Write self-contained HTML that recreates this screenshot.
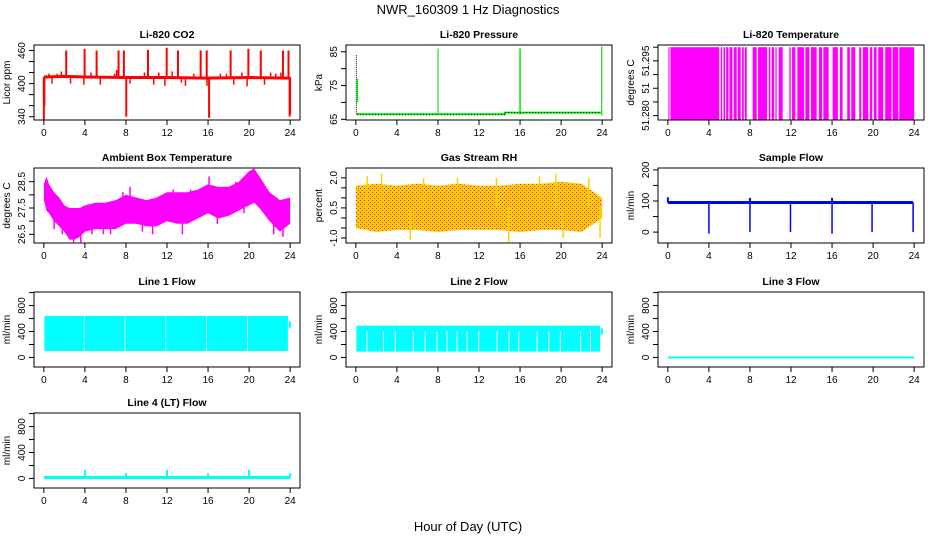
<!DOCTYPE html>
<html><head><meta charset="utf-8">
<style>
html,body{margin:0;padding:0;background:#fff;}
svg{display:block;font-family:"Liberation Sans",Arial,sans-serif;}
.t{font-size:10.5px;font-weight:bold;text-anchor:middle;}
.tk{font-size:10px;text-anchor:middle;}
.yl{font-size:10px;text-anchor:middle;}
</style></head>
<body>
<svg id="chart" width="936" height="540" viewBox="0 0 936 540">
<defs>
<pattern id="rhpat" width="4" height="4" patternUnits="userSpaceOnUse">
<rect width="4" height="4" fill="#ffcc00"/><rect x="0" y="0" width="1" height="1" fill="#ff2000"/><rect x="2" y="2" width="1" height="1" fill="#ff3000"/>
</pattern>
</defs>
<text x="468" y="14" font-size="13" text-anchor="middle">NWR_160309  1 Hz Diagnostics</text>
<text x="468" y="531" font-size="13" text-anchor="middle">Hour of Day (UTC)</text>
</svg>
<script>
// ---- data ----
var xTicks = [0,4,8,12,16,20,24];
var co2Base = [[0,412],[2,413],[4,412],[8,411],[12,411],[16,410],[20,411],[24,410]];
var co2UpHours = [2.18,3.97,5.14,7.28,7.8,10.15,11.97,13.07,15.28,15.87,18.2,19.93,21.14,23.3,23.84];
var co2UpVals = [460,463,460,460,460,461,465,460,460,460,460,463,460,460,460];
var co2DownHours = [0.0,0.05,8.03,16.1,23.95,24.0];
var co2DownVals = [335,360,340,338,340,345];
var co2SmallHours = [0.5,0.8,1.3,1.7,2.6,3.2,3.9,4.2,4.6,5.5,6.3,6.9,7.1,8.4,9.3,9.8,10.7,11.2,11.8,12.5,13.4,13.8,14.6,15.1,15.9,16.6,17.2,17.8,18.5,19.3,19.8,20.6,21.5,22.1,22.6,23.1];
var co2SmallVals = [418,400,418,422,400,410,398,412,420,398,412,418,425,400,410,420,398,420,396,422,402,396,418,408,396,410,418,418,398,420,395,410,398,420,418,420];
var presBaseHours = [0.1,14.5,14.5,23.9];
var presBaseVals = [66.5,66.5,67.0,67.0];
var presSpikeHours = [0.05,8.0,16.0,23.95];
var presSpikeVals = [84,86,86,86.5];
var tempGapStart = [0.16,5.0,5.29,5.58,5.9,6.29,6.71,7.1,7.4,7.69,8.66,9.67,9.99,10.35,10.6,11.19,11.97,12.42,13.27,13.79,14.5,15.02,15.67,16.57,17.03,17.74,18.26,18.84,19.53,19.92,20.34,20.99,21.8,22.45];
var tempGapEnd = [0.23,5.16,5.42,5.68,6.0,6.42,6.81,7.23,7.49,8.27,8.79,9.83,10.12,10.48,10.8,11.84,12.1,12.62,13.4,13.95,14.73,15.15,16.06,16.77,17.48,17.87,18.65,19.0,19.69,20.08,20.5,21.18,21.9,22.54];
var ambHours = [0,0.25,0.5,1,1.5,2,2.5,3,3.5,4,5,6,7,8,9,10,11,12,13,14,15,16,17,18,19,20,20.5,21,22,23,24];
var ambMin = [27.8,27.4,27.3,27.0,26.8,26.6,26.3,26.3,26.4,26.6,26.7,26.7,26.7,26.9,26.9,26.8,26.8,27.0,26.9,26.9,27.1,27.3,27.1,27.2,27.4,27.6,27.7,27.5,27.0,26.6,26.9];
var ambMax = [28.4,28.7,28.4,28.1,27.9,27.6,27.5,27.5,27.5,27.6,27.7,27.7,27.8,28.0,27.9,27.8,27.9,28.1,28.1,28.1,28.2,28.4,28.3,28.3,28.5,28.9,29.0,28.7,28.1,27.8,27.9];
var ambSpikeHours = [1.0,1.8,2.9,3.6,4.7,5.8,6.5,7.7,8.4,9.6,10.6,11.7,12.6,13.5,14.3,15.5,16.1,16.9,17.6,18.7,19.5,21.6,22.4,23.3];
var ambSpikeVals = [26.7,26.5,26.2,26.2,26.5,26.5,26.5,28.1,28.3,26.6,26.5,28.0,28.2,26.5,28.2,28.3,28.7,26.9,28.3,28.5,27.3,28.2,26.5,26.4];
var rhHours = [0,2,4,6,8,10,12,14,16,18,20,22,24];
var rhMin = [-0.5,-0.7,-0.6,-0.6,-0.7,-0.6,-0.6,-0.6,-0.7,-0.6,-0.6,-0.7,0.0];
var rhMax = [1.6,1.7,1.6,1.7,1.6,1.7,1.6,1.6,1.7,1.7,1.8,1.7,1.0];
var rhSpikeHours = [1.1,2.5,5.3,6.6,9.9,13.7,14.9,17.9,19.5,20.2,22.7,23.8];
var rhSpikeVals = [2.1,2.2,-1.1,2.0,2.0,2.0,-1.2,2.1,2.2,-1.0,2.0,-1.0];
var sfBase = 95;
var sfDipHours = [4.0,8.0,11.95,16.0,19.9,23.9];
var sfDipVals = [-5,0,0,-5,0,0];
var sfUpHours = [0.0,8.0,16.0];
var sfUpVals = [112,110,110];
var l1Lo = 100, l1Hi = 640;
var l1SegStart = [0.05,3.97,7.95,11.92,15.9,19.87];
var l1SegEnd = [3.9,7.88,11.85,15.83,19.8,23.78];
var l2Lo = 90, l2Hi = 490;
var l2GapHours = [1.07,2.7,3.84,5.6,6.76,7.9,8.88,9.85,10.83,11.97,13.76,14.9,15.87,17.66,18.8,19.93,21.9,22.86];
var l3Val = 0;
var l4Base = 15;
var l4SpikeHours = [4,8,12,16,20,24];
var l4SpikeVals = [130,80,130,80,130,80];

// ---- layout ----
var NS = "http://www.w3.org/2000/svg";
var svg = document.getElementById("chart");
var W = 266, H = 75;
var panels = [
 {id:"li820-co2",title:"Li-820 CO2",x:34,y:45,top:470,bot:334,ticks:[340,360,380,400,420,440,460],labels:{340:"340",400:"400",460:"460"},ylab:"Licor ppm"},
 {id:"li820-pressure",title:"Li-820 Pressure",x:346,y:45,top:87,bot:64.8,ticks:[65,70,75,80,85],labels:{65:"65",75:"75",85:"85"},ylab:"kPa"},
 {id:"li820-temperature",title:"Li-820 Temperature",x:658,y:45,top:51.3058,bot:51.2784,ticks:[51.280,51.285,51.290,51.295,51.300,51.305],labels:{"51.28":"51.280","51.29":"51","51.3":"51.295"},ylab:"degrees C"},
 {id:"ambient-box-temperature",title:"Ambient Box Temperature",x:34,y:168,top:29.02,bot:26.17,ticks:[26.5,27,27.5,28,28.5],labels:{"26.5":"26.5","27.5":"27.5","28.5":"28.5"},ylab:"degrees C"},
 {id:"gas-stream-rh",title:"Gas Stream RH",x:346,y:168,top:2.49,bot:-1.25,ticks:[-1,-0.5,0,0.5,1,1.5,2],labels:{"-1":"-1.0","0.5":"0.5","2":"2.0"},ylab:"percent"},
 {id:"sample-flow",title:"Sample Flow",x:658,y:168,top:206,bot:-35,ticks:[0,50,100,150,200],labels:{0:"0",100:"100",200:"200"},ylab:"ml/min"},
 {id:"line1-flow",title:"Line 1 Flow",x:34,y:292,top:1009,bot:-147,ticks:[0,200,400,600,800,1000],labels:{0:"0",400:"400",800:"800"},ylab:"ml/min"},
 {id:"line2-flow",title:"Line 2 Flow",x:346,y:292,top:1009,bot:-147,ticks:[0,200,400,600,800,1000],labels:{0:"0",400:"400",800:"800"},ylab:"ml/min"},
 {id:"line3-flow",title:"Line 3 Flow",x:658,y:292,top:1009,bot:-147,ticks:[0,200,400,600,800,1000],labels:{0:"0",400:"400",800:"800"},ylab:"ml/min"},
 {id:"line4-flow",title:"Line 4 (LT) Flow",x:34,y:413,top:1009,bot:-147,ticks:[0,200,400,600,800,1000],labels:{0:"0",400:"400",800:"800"},ylab:"ml/min"}
];
function X(p,h){return p.x + (h+0.96)/25.92*W;}
function Y(p,v){return p.y + (p.top-v)/(p.top-p.bot)*H;}
function mk(tag,attrs,parent){var e=document.createElementNS(NS,tag);for(var k in attrs)e.setAttribute(k,attrs[k]);(parent||svg).appendChild(e);return e;}
function vline(g,p,h,v1,v2,col,w){return mk("line",{x1:X(p,h),x2:X(p,h),y1:Y(p,v1),y2:Y(p,v2),stroke:col,"stroke-width":w||1},g);}
function poly(g,p,hs,vs,col,w,dash){var pts=hs.map(function(h,i){return X(p,h).toFixed(1)+","+Y(p,vs[i]).toFixed(1);}).join(" ");var e=mk("polyline",{points:pts,fill:"none",stroke:col,"stroke-width":w||1},g);if(dash)e.setAttribute("stroke-dasharray",dash);return e;}
function band(g,p,hs,lo,hi,fill){var pts=[];hs.forEach(function(h,i){pts.push(X(p,h).toFixed(1)+","+Y(p,hi[i]).toFixed(1));});for(var i=hs.length-1;i>=0;i--)pts.push(X(p,hs[i]).toFixed(1)+","+Y(p,lo[i]).toFixed(1));return mk("polygon",{points:pts.join(" "),fill:fill},g);}

var G = {};
panels.forEach(function(p){
  var g = mk("g",{});
  
  
  G[p.id]=g;
  var t = mk("text",{x:p.x+W/2,y:p.y-7,"class":"t"},g); t.textContent=p.title;
  
  
  var box = mk("rect",{x:p.x,y:p.y,width:W,height:H,fill:"none",stroke:"#000","stroke-width":1});
  
  
  p.box = box;
  var xa = mk("g",{},g);
  
  
  mk("line",{x1:X(p,0),x2:X(p,24),y1:p.y+H,y2:p.y+H,stroke:"#000"},xa);
  xTicks.forEach(function(h){
    mk("line",{x1:X(p,h),x2:X(p,h),y1:p.y+H,y2:p.y+H+5,stroke:"#000"},xa);
    var l=mk("text",{x:X(p,h),y:p.y+H+16,"class":"tk"},xa); l.textContent=String(h);
  });
  var ya = mk("g",{},g);
  
  
  var t0=p.ticks[0], t1=p.ticks[p.ticks.length-1];
  mk("line",{x1:p.x,x2:p.x,y1:Y(p,t0),y2:Y(p,t1),stroke:"#000"},ya);
  p.ticks.forEach(function(v){
    mk("line",{x1:p.x-5,x2:p.x,y1:Y(p,v),y2:Y(p,v),stroke:"#000"},ya);
    var key = String(parseFloat(v.toFixed(4)));
    if(p.labels[key]!==undefined){
      var yy=Y(p,v), xx=p.x-9;
      var l=mk("text",{x:xx,y:yy,"class":"tk",transform:"rotate(-90 "+xx+" "+yy+")"},ya); l.textContent=p.labels[key];
    }
  });
  var yx=p.x-24, yy=p.y+H/2;
  var yl=mk("text",{x:yx,y:yy,"class":"yl",transform:"rotate(-90 "+yx+" "+yy+")"},g); yl.textContent=p.ylab;
  
  
});
function P(id){for(var i=0;i<panels.length;i++)if(panels[i].id===id)return panels[i];}

(function(){var p=P("li820-co2"),g=G[p.id];var s=mk("g",{},g);


poly(s,p,co2Base.map(function(d){return d[0];}),co2Base.map(function(d){return d[1];}),"#ff0000",3);
co2UpHours.forEach(function(h,i){vline(s,p,h,co2Base[0][1],co2UpVals[i],"#ff0000",2);});
co2DownHours.forEach(function(h,i){vline(s,p,h,co2Base[0][1],co2DownVals[i],"#ff0000",2);});
co2SmallHours.forEach(function(h,i){vline(s,p,h,co2Base[0][1],co2SmallVals[i],"#ff0000",1.5);});
})();
(function(){var p=P("li820-pressure"),g=G[p.id];var s=mk("g",{},g);


poly(s,p,presBaseHours,presBaseVals,"#00ee00",2);
poly(s,p,presBaseHours,presBaseVals,"#000",1,"1,2");
presSpikeHours.forEach(function(h,i){vline(s,p,h,66.5,presSpikeVals[i],"#000",1).setAttribute("stroke-dasharray","1,1");});
vline(s,p,0.15,70,77,"#00ee00",1.5);
vline(s,p,16.0,67,86,"#00ee00",1.5);
vline(s,p,8.02,66,86,"#00ee00",0.8);
vline(s,p,23.97,66,86.5,"#00ee00",0.8);
})();
(function(){var p=P("li820-temperature"),g=G[p.id];var s=mk("g",{},g);


var yT=Y(p,51.305), yB=Y(p,51.2785);
mk("rect",{x:X(p,0.05),y:yT,width:X(p,24)-X(p,0.05),height:yB-yT,fill:"#ff00ff"},s);
tempGapStart.forEach(function(h,i){mk("rect",{x:X(p,h),y:yT-1,width:Math.max(1,X(p,tempGapEnd[i])-X(p,h)),height:yB-yT+2,fill:"#fff"},s);});
})();
(function(){var p=P("ambient-box-temperature"),g=G[p.id];var s=mk("g",{},g);


band(s,p,ambHours,ambMin,ambMax,"#ff00ff");
ambSpikeHours.forEach(function(h,i){vline(s,p,h,27.5,ambSpikeVals[i],"#ff00ff",1.5);});
})();
(function(){var p=P("gas-stream-rh"),g=G[p.id];var s=mk("g",{},g);


band(s,p,rhHours,rhMin,rhMax,"url(#rhpat)");
rhSpikeHours.forEach(function(h,i){vline(s,p,h,0.5,rhSpikeVals[i],"#ffd000",1.5);});
})();
(function(){var p=P("sample-flow"),g=G[p.id];var s=mk("g",{},g);


poly(s,p,[0,23.9],[sfBase,sfBase],"#0000ff",3);
sfDipHours.forEach(function(h,i){vline(s,p,h,sfBase,sfDipVals[i],"#0000ff",1.5);});
sfUpHours.forEach(function(h,i){vline(s,p,h,sfBase,sfUpVals[i],"#0000ff",2);});
})();
(function(){var p=P("line1-flow"),g=G[p.id];var s=mk("g",{},g);


l1SegStart.forEach(function(h,i){mk("rect",{x:X(p,h),y:Y(p,l1Hi),width:X(p,l1SegEnd[i])-X(p,h),height:Y(p,l1Lo)-Y(p,l1Hi),fill:"#00ffff"},s);});
vline(s,p,23.97,450,560,"#00ffff",2);
})();
(function(){var p=P("line2-flow"),g=G[p.id];var s=mk("g",{},g);


mk("rect",{x:X(p,0.05),y:Y(p,l2Hi),width:X(p,23.8)-X(p,0.05),height:Y(p,l2Lo)-Y(p,l2Hi),fill:"#00ffff"},s);
l2GapHours.forEach(function(h){vline(s,p,h,l2Lo,l2Hi-80,"#fff",1);});
vline(s,p,23.97,350,450,"#00ffff",2);
})();
(function(){var p=P("line3-flow"),g=G[p.id];var s=mk("g",{},g);


poly(s,p,[0,24],[l3Val,l3Val],"#00ffff",2);
})();
(function(){var p=P("line4-flow"),g=G[p.id];var s=mk("g",{},g);


poly(s,p,[0,24],[l4Base,l4Base],"#00ffff",3);
l4SpikeHours.forEach(function(h,i){vline(s,p,h,l4Base,l4SpikeVals[i],"#00ffff",2);});
})();
panels.forEach(function(p){svg.appendChild(p.box);});
</script>
</body></html>
